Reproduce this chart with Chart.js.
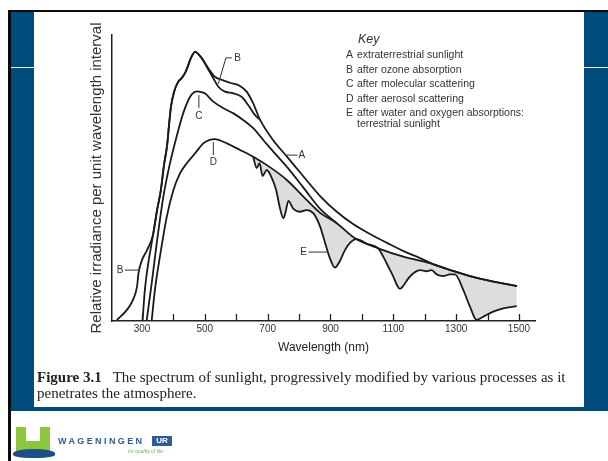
<!DOCTYPE html>
<html><head><meta charset="utf-8">
<script src="https://cdn.jsdelivr.net/npm/chart.js@4.4.1/dist/chart.umd.min.js"></script>
<style>
html,body{margin:0;padding:0;}
body{width:608px;height:461px;position:relative;overflow:hidden;background:#fff;font-family:"Liberation Sans",Arial,sans-serif;}
.abs{position:absolute;}
#blk-top{left:8px;top:10px;width:600px;height:2px;background:#0b0b0b;}
#blk-left{left:8px;top:10px;width:3px;height:451px;background:#0b0b0b;}
#blue{left:11px;top:12px;width:597px;height:399px;background:#024c7d;}
#paper{left:34px;top:12px;width:550px;height:395px;background:#fff;}
.wline{height:1px;background:#e8eef4;top:67px;}
#cv{left:34px;top:12px;}
.key{font-size:10.5px;color:#333;line-height:12px;white-space:nowrap;}
.key b{font-weight:normal;display:inline-block;width:11px;}
#keytitle{left:358px;top:32px;font-size:12.5px;font-style:italic;color:#333;line-height:14px;}
.cap{left:37px;font-family:"Liberation Serif","Times New Roman",serif;font-size:13px;color:#222;line-height:16px;white-space:nowrap;}
</style></head>
<body>
<div class="abs" id="blue"></div>
<div class="abs" id="paper"></div>
<div class="abs wline" style="left:11px;width:23px;"></div>
<div class="abs wline" style="left:584px;width:24px;"></div>
<div class="abs" id="blk-top"></div>
<div class="abs" id="blk-left"></div>
<canvas class="abs" id="cv" width="550" height="395"></canvas>

<div class="abs" id="keytitle">Key</div>
<div class="abs key" style="left:346px;top:48px;"><b>A</b>extraterrestrial sunlight</div>
<div class="abs key" style="left:346px;top:63px;"><b>B</b>after ozone absorption</div>
<div class="abs key" style="left:346px;top:77px;"><b>C</b>after molecular scattering</div>
<div class="abs key" style="left:346px;top:92px;"><b>D</b>after aerosol scattering</div>
<div class="abs key" style="left:346px;top:106px;"><b>E</b>after water and oxygen absorptions:</div>
<div class="abs key" style="left:357px;top:117px;">terrestrial sunlight</div>

<div class="abs cap" id="cap1" style="top:369px;"><b>Figure 3.1</b>&nbsp;&nbsp; The spectrum of sunlight, progressively modified by various processes as it</div>
<div class="abs cap" id="cap2" style="top:385px;">penetrates the atmosphere.</div>

<!-- logo -->
<div class="abs" style="left:16px;top:427px;width:34px;height:25px;background:#8cc63f;"></div>
<div class="abs" style="left:26px;top:427px;width:14px;height:14px;background:#fff;"></div>
<div class="abs" style="left:13px;top:449px;width:42px;height:9px;background:#1d4f82;border-radius:50% 50% 40% 40%;"></div>
<div class="abs" style="left:58px;top:436px;font-size:9px;font-weight:bold;letter-spacing:2.4px;color:#2a5c98;line-height:10px;">WAGENINGEN</div>
<div class="abs" style="left:152px;top:436px;width:20px;height:10px;background:#2a5c98;color:#fff;font-size:8px;font-weight:bold;line-height:10px;text-align:center;">UR</div>
<div class="abs" style="left:128px;top:448px;font-size:5px;font-style:italic;color:#7ab648;line-height:6px;">for quality of life</div>

<script>
// ---- data (wavelength nm, relative irradiance) ----
const seriesA = [[220,0.3],[252,3.9],[271,7.3],[284,11.9],[289,16.8],[300,21.3],[316,24.8],[335,30.1],[348,38.8],[360,45.8],[370,54.5],[380,61.5],[386,68.5],[392,74.8],[402,80.1],[415,83.6],[427,85.0],[440,87.4],[456,92.0],[469,94.1],[490,91.9],[511,88.4],[532,85.4],[554,84.3],[580,83.3],[612,82.2],[633,80.2],[654,76.1],[676,70.3],[717,63.3],[762,57.4],[812,50.8],[867,43.7],[921,38.1],[972,33.9],[1026,30.4],[1080,27.3],[1131,24.5],[1185,22.0],[1226,19.9],[1290,17.5],[1344,15.7],[1408,14.0],[1494,12.2]];
const seriesB = [[302,0.3],[309,10.8],[320,20.2],[330,26.8],[335,30.1],[348,38.8],[360,45.8],[370,54.5],[380,61.5],[386,68.5],[392,74.8],[402,80.1],[415,83.6],[427,85.0],[440,87.4],[456,92.0],[469,94.1],[490,91.9],[506,88.9],[527,84.9],[543,81.9],[564,80.2],[591,79.6],[617,78.4],[638,75.5],[660,72.0],[676,70.3]];
const seriesC = [[315,0.3],[331,13.3],[347,27.3],[368,43.5],[389,55.1],[410,64.4],[431,72.6],[453,78.4],[466,80.0],[476,80.3],[490,80.0],[500,79.6],[527,76.7],[559,74.4],[591,72.6],[622,70.3],[654,67.4],[686,63.3],[718,59.2],[762,53.8],[812,46.9],[867,39.2],[920,34.2]];
const seriesD = [[331,0.3],[341,10.8],[357,22.5],[379,36.5],[400,45.8],[421,51.6],[442,55.1],[469,58.6],[495,62.1],[516,63.3],[532,63.6],[570,62.1],[612,59.8],[654,57.4],[707,53.8],[762,49.2],[812,43.7],[867,37.8],[920,34.2],[978,28.9],[1052,25.4],[1132,22.5],[1217,20.2],[1290,17.5],[1344,15.7],[1408,14.0],[1494,12.2]];
const seriesE = [[654,57.4],[665,53.5],[674,55.2],[684,50.7],[697,52.8],[712,50.3],[727,45.8],[739,39.5],[750,35.9],[757,38.1],[766,42.0],[782,39.2],[803,38.2],[824,38.8],[845,37.7],[867,33.0],[882,27.6],[898,22.0],[914,18.7],[930,21.0],[946,24.8],[962,27.3],[983,28.6],[1016,27.0],[1052,25.4],[1068,22.5],[1084,19.0],[1100,15.5],[1112,12.5],[1121,11.2],[1133,12.5],[1148,14.9],[1164,16.7],[1185,17.8],[1206,17.4],[1222,17.8],[1238,16.3],[1259,15.7],[1280,16.3],[1296,16.3],[1323,10.8],[1344,5.0],[1365,0.4],[1386,1.5],[1418,3.25],[1450,4.4],[1493,5.2]];
const tickLabels = [300,500,700,900,1100,1300,1500];
const tickMarks = [300,400,500,600,700,800,900,1000,1100,1200,1300,1400,1500];
const curveLabels = [
  {text:'B', at:[604,92.0], leader:[[586,92.0],[567,92.0],[543,82.9]]},
  {text:'B', at:[230,17.8], leader:[[246,17.8],[290,17.8]]},
  {text:'C', at:[481,71.7], leader:[[481,79.0],[481,74.5]]},
  {text:'D', at:[527,55.6], leader:[[527,62.6],[527,58.0]]},
  {text:'A', at:[809,58.0], leader:[[755,58.0],[795,58.0]]},
  {text:'E', at:[814,24.1], leader:[[830,24.1],[889,24.1]]}
];
// ---------------------------------------------------

const toPts = s => s.map(p => ({x:p[0], y:p[1]}));
const lineStyle = {borderColor:'#1a1a1a', borderWidth:1.8, pointRadius:0, cubicInterpolationMode:'monotone', fill:false};

const annot = {
  id:'annot',
  afterDatasetsDraw(chart){
    const {ctx, chartArea} = chart; const xs = chart.scales.x, ys = chart.scales.y;
    ctx.save();
    ctx.strokeStyle = '#222'; ctx.lineWidth = 1.3;
    tickMarks.forEach(v => {
      const px = Math.round(xs.getPixelForValue(v)) + 0.5;
      ctx.beginPath(); ctx.moveTo(px, chartArea.bottom); ctx.lineTo(px, chartArea.bottom - 7); ctx.stroke();
    });
    ctx.lineWidth = 1; ctx.strokeStyle = '#333';
    ctx.fillStyle = '#333'; ctx.font = '10px "Liberation Sans", Arial, sans-serif';
    ctx.textAlign = 'center'; ctx.textBaseline = 'middle';
    curveLabels.forEach(l => {
      ctx.beginPath();
      l.leader.forEach((p,i) => { const px = xs.getPixelForValue(p[0]), py = ys.getPixelForValue(p[1]); i ? ctx.lineTo(px,py) : ctx.moveTo(px,py); });
      ctx.stroke();
      ctx.fillText(l.text, xs.getPixelForValue(l.at[0]), ys.getPixelForValue(l.at[1]));
    });
    ctx.restore();
  }
};

Chart.defaults.font.family = '"Liberation Sans", Arial, sans-serif';
new Chart(document.getElementById('cv'), {
  type:'line',
  data:{datasets:[
    Object.assign({label:'A', data:toPts(seriesA)}, lineStyle),
    Object.assign({label:'B', data:toPts(seriesB)}, lineStyle),
    Object.assign({label:'C', data:toPts(seriesC)}, lineStyle),
    Object.assign({label:'D', data:toPts(seriesD)}, lineStyle),
    Object.assign({label:'E', data:toPts(seriesE)}, lineStyle, {fill:'-1', backgroundColor:'#dddddd'})
  ]},
  options:{
    responsive:false, animation:false, devicePixelRatio:1,
    layout:{padding:{top:23, right:49, left:0, bottom:46}},
    plugins:{legend:{display:false}, tooltip:{enabled:false}},
    scales:{
      x:{type:'linear', min:204.5, max:1551,
        afterBuildTicks: s => { s.ticks = tickLabels.map(v => ({value:v})); },
        ticks:{autoSkip:false, maxRotation:0, font:{size:10}, color:'#333', padding:2, callback: v => String(v)},
        grid:{display:false, drawTicks:false},
        border:{display:true, color:'#222', width:1.5},
        title:{display:true, text:'Wavelength (nm)', font:{size:12}, color:'#222', padding:{top:0, bottom:6}},
        afterFit: s => { s.height = 40; }
      },
      y:{min:0, max:100,
        ticks:{display:false},
        grid:{display:false, drawTicks:false},
        border:{display:true, color:'#222', width:1.5},
        title:{display:true, text:'Relative irradiance per unit wavelength interval', font:{size:15}, color:'#333', padding:{top:54, bottom:0}},
        afterFit: s => { s.width = 78; }
      }
    }
  },
  plugins:[annot]
});

// fit caption line width to the reference text block
(function(){
  const c1 = document.getElementById('cap1'), c2 = document.getElementById('cap2');
  const w = c1.getBoundingClientRect().width;
  const f = 13 * 529 / w;
  c1.style.fontSize = f + 'px'; c2.style.fontSize = f + 'px';
})();
</script>
</body></html>
